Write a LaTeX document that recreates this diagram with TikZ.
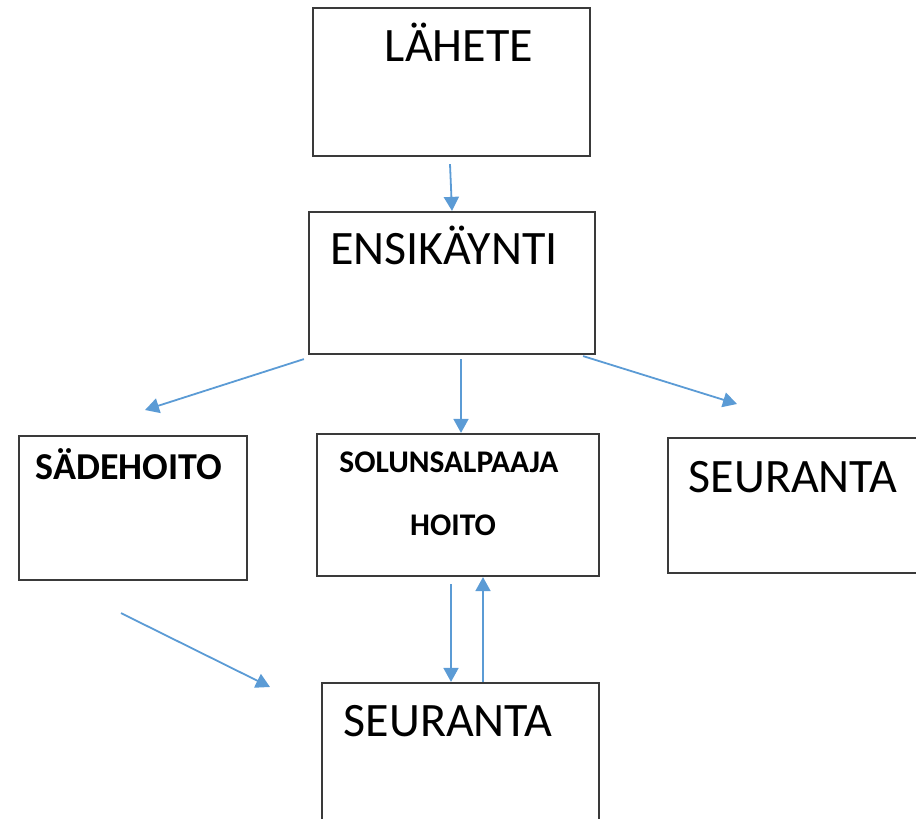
\documentclass[tikz,border=0pt]{standalone}
\usepackage{fontspec}
\setmainfont{Carlito}
\usepackage{xcolor}
\usetikzlibrary{arrows.meta}

\definecolor{arrowblue}{HTML}{5B9BD5}
\definecolor{boxline}{HTML}{3A3A3A}

\begin{document}
\begin{tikzpicture}[x=1pt,y=-1pt]
\tikzset{box/.style={draw=boxline,line width=2.2pt,minimum width=#1,inner sep=0pt}}
\tikzset{arr/.style={draw=arrowblue,line width=1.8pt,-{Triangle[length=14pt,width=15pt]}}}
\tikzset{big/.style={anchor=base,inner sep=0pt,font=\fontsize{48}{52}\selectfont}}
\tikzset{bolda/.style={anchor=base,inner sep=0pt,font=\fontsize{38}{41}\selectfont\bfseries}}
\tikzset{boldb/.style={anchor=base,inner sep=0pt,font=\fontsize{31.5}{35}\selectfont\bfseries}}

\useasboundingbox (0,0) rectangle (916,819);
\clip (0,0) rectangle (916,819);

% boxes
\node[box=277pt,minimum height=148pt] (lahete) at (451.5,82) {};
\node[box=286pt,minimum height=142pt] (ensi) at (452,283) {};
\node[box=228pt,minimum height=144pt] (sade) at (133,508) {};
\node[box=282pt,minimum height=142pt] (solu) at (458,505) {};
\node[box=272pt,minimum height=135pt] (seur1) at (804,505.5) {};
\node[box=277pt,minimum height=157pt] (seur2) at (460.5,761.5) {};

% texts
\node[big] (tlahete) at (459,61) {LÄHETE};
\node[big] (tensi) at (444,264) {ENSIKÄYNTI};
\node[bolda] (tsade) at (129,479) {SÄDEHOITO};
\node[boldb] (tsolu) at (449,472) {SOLUNSALPAAJA};
\node[boldb] (thoito) at (453,535) {HOITO};
\node[big] (tseur1) at (793,492) {SEURANTA};
\node[big] (tseur2) at (448,736) {SEURANTA};

% free ends
\coordinate (tosade) at (145,410);
\coordinate (toseur1) at (737,404);
\coordinate (toseur2) at (270,687);

% arrows
\draw[arr] ([xshift=-1.5pt,yshift=-7pt]lahete.south) -- (ensi.north);
\draw[arr] ([xshift=-4pt,yshift=-4pt]ensi.south west) -- (tosade);
\draw[arr] ([xshift=9pt,yshift=-4pt]ensi.south) -- ([xshift=3pt]solu.north);
\draw[arr] ([xshift=-13pt,yshift=-1pt]ensi.south east) -- (toseur1);
\draw[arr] ([xshift=-12pt,yshift=-32pt]sade.south) -- (toseur2);
\draw[arr] ([xshift=-7pt,yshift=-7pt]solu.south) -- ([xshift=-9.5pt]seur2.north);
\draw[arr] ([xshift=22.5pt]seur2.north) -- ([xshift=25pt]solu.south);

\end{tikzpicture}
\end{document}
